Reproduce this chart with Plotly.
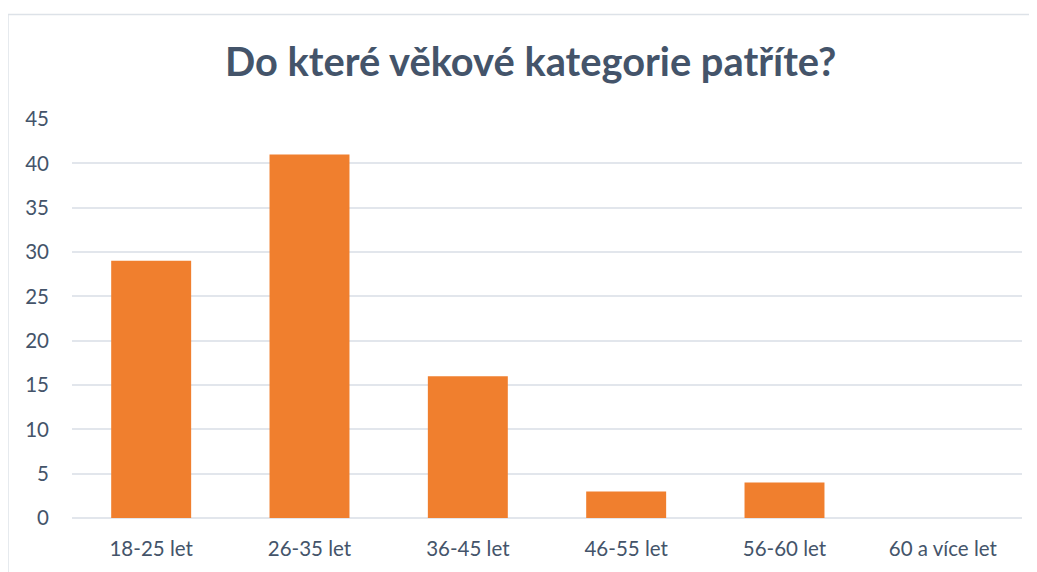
import plotly.graph_objects as go

categories = ["18-25 let", "26-35 let", "36-45 let", "46-55 let", "56-60 let", "60 a více let"]
values = [29, 41, 16, 3, 4, 0]
y_ticks = [0, 5, 10, 15, 20, 25, 30, 35, 40, 45]
title_text = "Do které věkové kategorie patříte?"

text_color = "#44546A"
grid_color = "#E2E6EC"

fig = go.Figure(
    go.Bar(
        x=categories,
        y=values,
        marker=dict(color="#F07F2E", line=dict(width=0)),
        hoverinfo="x+y",
    )
)

fig.update_layout(
    width=1029,
    height=564,
    paper_bgcolor="white",
    plot_bgcolor="white",
    margin=dict(l=64, r=15, t=111, b=54),
    bargap=0.495,
    showlegend=False,
    font=dict(family="Lato, Carlito, sans-serif", color=text_color, size=20.5),
    title=dict(
        text=title_text,
        x=0.508,
        xanchor="center",
        y=0.905,
        yanchor="middle",
        font=dict(family="Lato, Carlito, sans-serif", size=39.8, color=text_color, weight="bold"),
    ),
    shapes=[
        dict(
            type="rect",
            xref="paper",
            yref="paper",
            x0=-0.0674,
            x1=1.03,
            y0=-0.2,
            y1=1.262,
            line=dict(color="#DDE2E8", width=1.5),
            fillcolor="rgba(0,0,0,0)",
            layer="below",
        )
    ],
)

fig.update_xaxes(
    showgrid=False,
    showline=False,
    ticks="",
    tickfont=dict(size=20.5, color=text_color),
    ticklabelstandoff=16,
)
fig.update_yaxes(
    range=[0, 45],
    tickvals=y_ticks,
    showgrid=True,
    gridcolor=grid_color,
    gridwidth=1.5,
    zeroline=True,
    zerolinecolor=grid_color,
    zerolinewidth=1.5,
    showline=False,
    ticks="",
    tickfont=dict(size=20.5, color=text_color),
    ticklabelstandoff=22,
)

fig.write_html("out.html")
